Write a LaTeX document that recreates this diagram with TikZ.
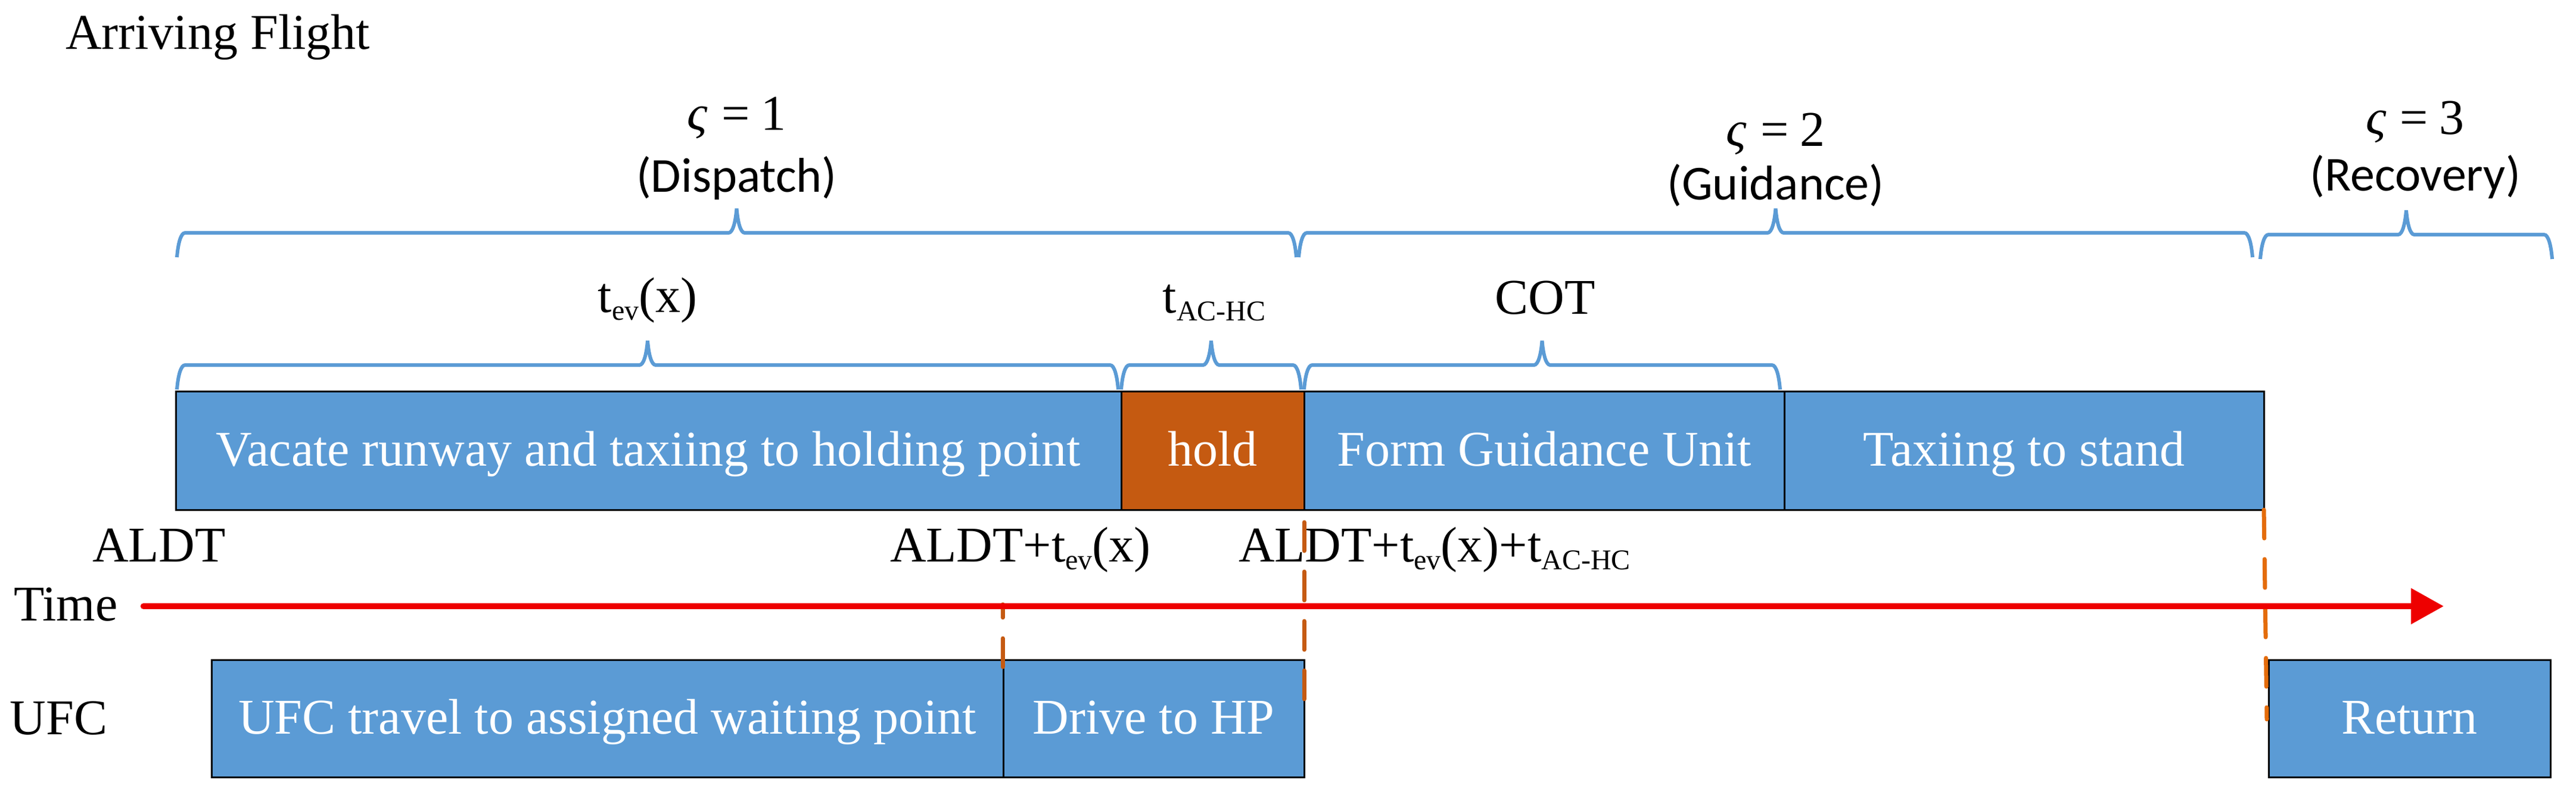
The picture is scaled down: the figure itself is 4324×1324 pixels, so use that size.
\documentclass[tikz,border=0pt]{standalone}
\usepackage{fontspec}
\setmainfont{Liberation Serif}
\newfontfamily\calibri{Carlito}
\usetikzlibrary{arrows.meta, decorations.pathreplacing, positioning}

\definecolor{boxblue}{HTML}{5B9BD5}
\definecolor{holdorange}{HTML}{C55A11}
\definecolor{markorange}{HTML}{E46C0A}
\definecolor{timered}{RGB}{238,0,0}

\newcommand{\lowsub}[1]{\raisebox{-2.6pt}{\fontsize{9.6}{10}\selectfont #1}}

\begin{document}
\begin{tikzpicture}[x=0.2pt, y=0.2pt,
        every node/.style={inner sep=0pt, outer sep=0pt, font=\fontsize{16.8}{20}\selectfont},
        phase/.style={draw=black, line width=0.6pt, fill=boxblue, text=white,
            minimum height=39.8pt, text height=11.76pt, text depth=1.51pt},
        holdbox/.style={phase, fill=holdorange},
        ufcbox/.style={phase, minimum height=39.4pt},
        span/.style={draw=boxblue, line width=1.2pt, decorate,
            decoration={brace, amplitude=2.73pt, transform={yscale=6}}},
        stage/.style={anchor=base, font=\calibri\fontsize{16.4}{20}\selectfont},
        cutline/.style={line width=1.4pt, line cap=round, dash pattern=on 9.6pt off 7pt}]
        \useasboundingbox (0, 0) rectangle (4324, -1324);
        \node[anchor=base west] (arr) at (110, -82) {Arriving Flight};
        % aircraft phases
        \node[phase, minimum width=317.4pt, anchor=north west] (vacate) at (295, -657) {Vacate runway and taxiing to holding point};
        \node[holdbox, minimum width=61.4pt, right=0pt of vacate] (hold) {hold};
        \node[phase, minimum width=161.2pt, right=0pt of hold] (form) {Form Guidance Unit};
        \node[phase, minimum width=161pt, right=0pt of form] (taxi) {Taxiing to stand};
        % UFC phases
        \node[ufcbox, minimum width=265.8pt, anchor=north west] (travel) at (355, -1108) {UFC travel to assigned waiting point};
        \node[ufcbox, minimum width=101pt, right=0pt of travel] (drive) {Drive to HP};
        \node[ufcbox, minimum width=94.6pt, anchor=north west] (ret) at (3808, -1108) {Return};
        % time labels
        \node[anchor=base west] (aldt) at (155, -943) {ALDT};
        \node[anchor=base west] (aldtev) at (1494, -943) {ALDT+t\lowsub{ev}(x)};
        \node[anchor=base west] (aldtac) at (2079, -943) {ALDT+t\lowsub{ev}(x)+t\lowsub{AC-HC}};
        \node[anchor=base west] (time) at (23, -1042) {Time};
        \node[anchor=base west] (ufc) at (17, -1233) {UFC};
        % braces
        \draw[span] (297, -432) -- (2176, -432)
            node[pos=0.5, anchor=base, yshift=42.8pt] (s1) {{\itshape ς}\hspace{0.28em}=\hspace{0.22em}1}
            node[pos=0.5, stage, yshift=22pt] (dis) {(Dispatch)};
        \draw[span] (2180, -432) -- (3781, -432)
            node[pos=0.5, anchor=base, yshift=37.4pt] (s2) {{\itshape ς}\hspace{0.28em}=\hspace{0.22em}2}
            node[pos=0.5, stage, yshift=19.4pt] (gui) {(Guidance)};
        \draw[span] (3794, -435) -- (4284, -435)
            node[pos=0.5, anchor=base, xshift=3pt, yshift=42pt] (s3) {{\itshape ς}\hspace{0.28em}=\hspace{0.22em}3}
            node[pos=0.5, stage, xshift=3pt, yshift=23pt] (rec) {(Recovery)};
        \draw[span] (297, -654) -- (1877, -654)
            node[pos=0.5, anchor=base, yshift=26pt] (tev) {t\lowsub{ev}(x)};
        \draw[span] (1882, -654) -- (2184, -654)
            node[pos=0.5, anchor=base, xshift=1pt, yshift=25.8pt] (tac) {t\lowsub{AC-HC}};
        \draw[span] (2189, -654) -- (2988, -654)
            node[pos=0.5, anchor=base, xshift=1pt, yshift=25.4pt] (cot) {COT};
        % dashed marks
        \coordinate (m1a) at (1683, -1120);
        \coordinate (m1b) at (1683, -1015);
        \coordinate (m2a) at (2189, -877);
        \coordinate (m2b) at (2189, -1175);
        \coordinate (m3b) at (3805, -1208);
        \draw[cutline, holdorange] (m1a) -- (m1b);
        \draw[cutline, holdorange] (m2a) -- (m2b);
        \draw[cutline, markorange] (taxi.south east) -- (m3b);
        % time axis
        \coordinate (t0) at (241, -1018);
        \coordinate (t1) at (4102, -1018);
        \draw[timered, line width=2.1pt, line cap=round, -{Triangle[length=11pt, width=11.6pt]}] (t0) -- (t1);
    \end{tikzpicture}
\end{document}
